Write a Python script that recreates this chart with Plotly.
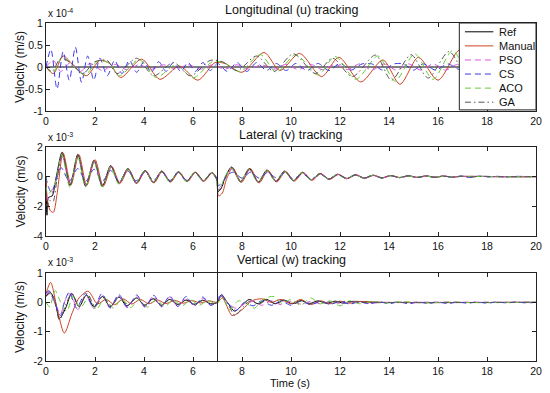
import plotly.graph_objects as go

# ---------------- data ----------------
x_ticks = [0, 2, 4, 6, 8, 10, 12, 14, 16, 18, 20]
x_ticktext = ["0", "2", "4", "6", "8", "10", "12", "14", "16", "18", "20"]
u_ticks = [-1, -0.5, 0, 0.5, 1]
u_ticktext = ["-1", "-0.5", "0", "0.5", "1"]
v_ticks = [-4, -2, 0, 2]
v_ticktext = ["-4", "-2", "0", "2"]
w_ticks = [-2, -1, 0, 1]
w_ticktext = ["-2", "-1", "0", "1"]

series_names = ["Ref", "Manual", "PSO", "CS", "ACO", "GA"]

# Longitudinal (u), units of 1e-4 m/s: (time, value)
u_ref = [(0, 0), (20, 0)]
u_manual = [(0, 0), (0.3, -0.15), (0.7, 0.25), (1.1, 0.05), (1.65, -0.2), (2.2, 0.15), (2.6, 0.08),
            (3.05, -0.24), (3.9, 0.18), (4.65, -0.28), (5.45, 0.02), (6.2, -0.3), (6.9, 0.1), (7.3, 0.08),
            (8.0, -0.12), (8.9, 0.33), (9.55, -0.08), (10.35, 0.31), (11.25, -0.22), (11.95, 0.22),
            (12.85, -0.34), (13.75, 0.16), (14.45, -0.39), (15.2, 0.22), (16.0, -0.3), (16.9, 0.39),
            (17.7, -0.3), (18.5, 0.35), (19.3, -0.3), (20, 0.3)]
u_pso = [(0, 0), (0.3, 0.15), (0.6, -0.1), (1.0, 0.1), (1.4, -0.1), (1.8, 0.08), (2.3, -0.08), (2.8, 0.06),
         (3.3, -0.06), (3.8, 0.05), (4.3, -0.05), (4.8, 0.05), (5.3, -0.05), (5.8, 0.05), (6.3, -0.05),
         (6.8, 0.05), (7.3, -0.05), (7.8, 0.05), (8.3, -0.05), (8.8, 0.05), (9.3, -0.05), (9.8, 0.06),
         (10.3, -0.06), (10.8, 0.06), (11.3, -0.06), (11.8, 0.06), (12.3, -0.06), (12.8, 0.07), (13.3, -0.07),
         (13.8, 0.07), (14.3, -0.07), (14.8, 0.07), (15.3, -0.07), (15.8, 0.07), (16.3, -0.07), (16.8, 0.06),
         (17.5, -0.06), (18.5, 0.05), (20, 0)]
u_cs = [(0, 0), (0.2, 0.4), (0.45, -0.5), (0.7, 0.35), (0.95, -0.3), (1.2, 0.45), (1.45, -0.35),
        (1.7, 0.25), (1.95, -0.3), (2.2, 0.2), (2.5, -0.2), (2.8, 0.15), (3.1, -0.15), (3.4, 0.15),
        (3.7, -0.12), (4.0, 0.12), (4.3, -0.12), (4.6, 0.12), (4.9, -0.1), (5.2, 0.1), (5.5, -0.1),
        (5.8, 0.1), (6.1, -0.1), (6.4, 0.1), (6.7, -0.08), (7.0, 0.08), (7.4, -0.1), (7.8, 0.1),
        (8.2, -0.1), (8.6, 0.1), (9.0, -0.08), (9.4, 0.08), (9.8, -0.08), (10.2, 0.08), (10.65, -0.08),
        (11.1, 0.08), (11.55, -0.08), (12.0, 0.08), (12.45, -0.07), (12.9, 0.07), (13.3, 0.07),
        (13.75, -0.07), (14.2, 0.07), (14.6, 0.07), (15.0, -0.07), (15.4, 0.07), (15.9, -0.07),
        (16.4, 0.07), (16.9, -0.06), (17.4, 0.06), (17.9, -0.06), (18.4, 0.06), (18.9, -0.06), (20, 0)]
u_aco = [(0, 0), (0.3, -0.12), (0.65, 0.22), (1.05, 0.05), (1.6, -0.18), (2.1, 0.13), (2.55, 0.1),
         (3.0, -0.2), (3.8, 0.17), (4.5, -0.24), (5.3, 0.05), (6.0, -0.25), (6.8, 0.12), (7.25, 0.1),
         (7.9, -0.1), (8.75, 0.28), (9.4, -0.12), (10.2, 0.28), (11.1, -0.18), (11.8, 0.24), (12.65, -0.28),
         (13.55, 0.25), (14.25, -0.32), (15.05, 0.3), (15.8, -0.28), (16.6, 0.37), (17.4, -0.3),
         (18.2, 0.33), (19.1, -0.3), (20, 0.3)]
u_ga = [(0, 0), (0.25, -0.1), (0.6, 0.2), (1.0, 0.1), (1.5, -0.15), (2.0, 0.12), (2.5, 0.15), (2.9, -0.15),
        (3.7, 0.2), (4.4, -0.2), (5.2, 0.1), (5.9, -0.2), (6.7, 0.15), (7.2, 0.12), (7.8, -0.08), (8.6, 0.25),
        (9.3, -0.1), (10.1, 0.3), (11.0, -0.15), (11.7, 0.2), (12.5, -0.22), (13.45, 0.27), (14.1, -0.3),
        (14.9, 0.28), (15.6, -0.25), (16.45, 0.35), (17.3, -0.3), (18.1, 0.3), (19.0, -0.3), (20, 0.3)]

# Lateral (v), units of 1e-3 m/s
v_ref = [(0, 0), (0.04, -2.6), (0.1, -1.4), (0.25, -1.3), (0.42, 0.0), (0.66, 1.65), (0.98, -0.6),
         (1.3, 1.5), (1.62, -0.65), (1.96, 1.1), (2.3, -0.65), (2.64, 0.75), (2.98, -0.45), (3.34, 0.55),
         (3.68, -0.45), (4.04, 0.42), (4.38, -0.4), (4.72, 0.38), (5.06, -0.35), (5.4, 0.33), (5.74, -0.32),
         (6.08, 0.3), (6.42, -0.3), (6.76, 0.28), (6.97, -0.2), (7.02, -1.0), (7.15, -0.8), (7.3, -0.1),
         (7.58, 0.65), (7.94, -0.35), (8.3, 0.55), (8.66, -0.38), (9.02, 0.45), (9.38, -0.33), (9.74, 0.38),
         (10.1, -0.28), (10.46, 0.3), (10.82, -0.22), (11.18, 0.22), (11.54, -0.18), (11.9, 0.17),
         (12.26, -0.14), (12.62, 0.13), (12.98, -0.11), (13.34, 0.1), (13.7, -0.09), (14.06, 0.08),
         (14.42, -0.07), (14.78, 0.06), (15.14, -0.05), (15.5, 0.05), (15.86, -0.04), (16.22, 0.04),
         (16.58, -0.03), (16.94, 0.03), (17.3, -0.02), (17.66, 0.02), (18.5, 0), (20, 0)]
v_manual = [(0, 0), (0.06, -1.6), (0.18, -2.3), (0.3, -2.4), (0.45, -1.2), (0.7, 1.6), (1.02, -0.55),
            (1.34, 1.5), (1.66, -0.6), (2.0, 1.15), (2.34, -0.65), (2.68, 0.7), (3.02, -0.45), (3.37, 0.5),
            (3.71, -0.45), (4.07, 0.4), (4.41, -0.42), (4.75, 0.36), (5.09, -0.36), (5.43, 0.32),
            (5.77, -0.33), (6.11, 0.3), (6.45, -0.3), (6.79, 0.27), (6.98, -0.2), (7.04, -1.3), (7.2, -1.1),
            (7.36, -0.2), (7.62, 0.6), (7.98, -0.38), (8.34, 0.55), (8.7, -0.42), (9.06, 0.42), (9.42, -0.35),
            (9.78, 0.35), (10.14, -0.3), (10.5, 0.28), (10.86, -0.24), (11.22, 0.2), (11.58, -0.18),
            (11.94, 0.15), (12.3, -0.13), (12.66, 0.12), (13.02, -0.1), (13.38, 0.09), (13.74, -0.08),
            (14.1, 0.07), (14.46, -0.06), (14.82, 0.05), (15.18, -0.05), (15.54, 0.04), (15.9, -0.03),
            (16.26, 0.03), (16.62, -0.02), (17, 0.02), (18.5, 0), (20, 0)]
v_pso = [(0, 0), (0.06, -1.5), (0.2, -1.3), (0.42, -0.2), (0.66, 1.4), (0.98, -0.5), (1.3, 1.3),
         (1.62, -0.55), (1.96, 1.0), (2.3, -0.55), (2.64, 0.65), (2.98, -0.4), (3.34, 0.5), (3.68, -0.4),
         (4.04, 0.38), (4.38, -0.36), (4.72, 0.34), (5.06, -0.32), (5.4, 0.3), (5.74, -0.3), (6.08, 0.28),
         (6.42, -0.28), (6.76, 0.26), (6.97, -0.2), (7.02, -0.8), (7.16, -0.6), (7.3, -0.1), (7.58, 0.5),
         (7.94, -0.3), (8.3, 0.45), (8.66, -0.3), (9.02, 0.38), (9.38, -0.28), (9.74, 0.32), (10.1, -0.24),
         (10.46, 0.26), (10.82, -0.2), (11.18, 0.2), (11.54, -0.16), (11.9, 0.15), (12.26, -0.12),
         (12.62, 0.11), (12.98, -0.1), (13.34, 0.09), (13.7, -0.08), (14.06, 0.07), (14.42, -0.06),
         (14.78, 0.05), (15.14, -0.05), (15.5, 0.04), (15.86, -0.03), (16.22, 0.03), (16.58, -0.02),
         (17, 0.02), (18.5, 0), (20, 0)]
v_cs = [(0, 0), (0.08, -0.6), (0.22, -1.05), (0.4, -0.3), (0.62, 0.6), (0.95, -0.3), (1.3, 0.55),
        (1.62, -0.3), (1.96, 0.5), (2.3, -0.3), (2.64, 0.42), (2.98, -0.3), (3.34, 0.38), (3.68, -0.28),
        (4.04, 0.32), (4.38, -0.26), (4.72, 0.3), (5.06, -0.25), (5.4, 0.28), (5.74, -0.24), (6.08, 0.26),
        (6.42, -0.22), (6.76, 0.24), (6.98, -0.1), (7.03, -0.6), (7.2, -0.4), (7.4, 0.1), (7.65, 0.3),
        (8.0, -0.1), (8.35, 0.3), (8.7, -0.1), (9.05, 0.28), (9.4, -0.08), (9.75, 0.25), (10.1, -0.15),
        (10.46, 0.2), (10.82, -0.15), (11.18, 0.15), (11.54, -0.13), (11.9, 0.12), (12.26, -0.1),
        (12.62, 0.1), (12.98, -0.09), (13.34, 0.08), (13.7, -0.08), (14.06, 0.07), (14.42, -0.06),
        (14.78, 0.06), (15.14, -0.06), (15.5, 0.05), (15.86, -0.05), (16.22, 0.05), (16.58, -0.04),
        (16.94, 0.04), (17.3, -0.04), (17.66, 0.03), (18.02, -0.03), (18.38, 0.03), (18.74, -0.02),
        (19.1, 0.02), (20, 0)]
v_aco = [(0, 0), (0.05, -1.2), (0.2, -1.0), (0.4, -0.3), (0.65, 1.5), (0.97, -0.7), (1.29, 1.4),
         (1.61, -0.7), (1.95, 1.0), (2.29, -0.7), (2.63, 0.65), (2.97, -0.5), (3.33, 0.5), (3.67, -0.45),
         (4.03, 0.4), (4.37, -0.4), (4.71, 0.36), (5.05, -0.35), (5.39, 0.32), (5.73, -0.32), (6.07, 0.3),
         (6.41, -0.3), (6.75, 0.28), (6.96, -0.3), (7.01, -0.7), (7.15, -0.6), (7.3, 0.0), (7.57, 0.6),
         (7.93, -0.3), (8.29, 0.5), (8.65, -0.34), (9.01, 0.4), (9.37, -0.3), (9.73, 0.33), (10.09, -0.25),
         (10.45, 0.27), (10.81, -0.2), (11.17, 0.2), (11.53, -0.16), (11.89, 0.15), (12.25, -0.12),
         (12.61, 0.11), (12.97, -0.1), (13.33, 0.09), (13.69, -0.08), (14.05, 0.07), (14.41, -0.06),
         (14.77, 0.05), (15.13, -0.05), (15.49, 0.04), (15.85, -0.03), (16.21, 0.03), (16.57, -0.02),
         (17, 0.02), (18.5, 0), (20, 0)]
v_ga = [(0, 0), (0.05, -2.0), (0.15, -1.6), (0.28, -1.7), (0.44, -0.3), (0.67, 1.55), (0.99, -0.55),
        (1.31, 1.45), (1.63, -0.6), (1.97, 1.05), (2.31, -0.6), (2.65, 0.7), (2.99, -0.42), (3.35, 0.52),
        (3.69, -0.42), (4.05, 0.4), (4.39, -0.38), (4.73, 0.36), (5.07, -0.33), (5.41, 0.31), (5.75, -0.3),
        (6.09, 0.28), (6.43, -0.28), (6.77, 0.26), (6.97, -0.2), (7.03, -0.9), (7.18, -0.7), (7.32, -0.1),
        (7.59, 0.62), (7.95, -0.33), (8.31, 0.52), (8.67, -0.36), (9.03, 0.42), (9.39, -0.3), (9.75, 0.35),
        (10.11, -0.26), (10.47, 0.28), (10.83, -0.2), (11.19, 0.2), (11.55, -0.16), (11.91, 0.15),
        (12.27, -0.12), (12.63, 0.12), (12.99, -0.1), (13.35, 0.09), (13.71, -0.08), (14.07, 0.07),
        (14.43, -0.06), (14.79, 0.06), (15.15, -0.05), (15.51, 0.04), (15.87, -0.04), (16.23, 0.03),
        (16.59, -0.03), (16.95, 0.02), (17.31, -0.02), (17.67, 0.02), (18.5, 0), (20, 0)]

# Vertical (w), units of 1e-3 m/s
w_ref = [(0, 0.2), (0.15, 0.35), (0.35, 0.1), (0.55, -0.55), (0.8, -0.2), (1.05, 0.3), (1.35, -0.15),
         (1.65, 0.25), (1.95, -0.15), (2.3, 0.2), (2.62, -0.15), (2.97, 0.18), (3.3, -0.12), (3.7, 0.15),
         (4.02, -0.1), (4.38, 0.12), (4.7, -0.1), (5.05, 0.1), (5.38, -0.08), (5.72, 0.08), (6.05, -0.07),
         (6.4, 0.07), (6.72, -0.05), (7.0, 0.0), (7.15, 0.25), (7.4, 0.0), (7.7, -0.3), (8.0, -0.1),
         (8.3, 0.1), (8.65, -0.05), (9.0, 0.1), (9.35, -0.05), (9.7, 0.08), (10.05, -0.05), (10.4, 0.06),
         (10.75, -0.04), (11.1, 0.05), (11.45, -0.03), (11.8, 0.04), (12.15, -0.03), (12.5, 0.03),
         (13.5, 0), (20, 0)]
w_manual = [(0, 0.3), (0.19, 0.68), (0.45, -0.2), (0.75, -1.05), (1.05, -0.4), (1.35, 0.15), (1.72, 0.38),
            (2.1, -0.05), (2.45, 0.1), (2.8, -0.08), (3.15, 0.12), (3.5, -0.06), (3.85, 0.1), (4.2, -0.05),
            (4.55, 0.08), (4.9, -0.04), (5.25, 0.07), (5.6, -0.03), (5.95, 0.06), (6.3, -0.02), (6.65, 0.05),
            (7.0, 0.0), (7.2, 0.15), (7.6, -0.45), (8.0, -0.25), (8.4, 0.05), (8.8, 0.12), (9.2, 0.0),
            (9.6, 0.1), (10.0, -0.05), (10.4, 0.1), (10.8, -0.08), (11.2, 0.05), (11.6, -0.05), (12.0, 0.04),
            (12.4, -0.03), (12.8, 0.03), (13.5, 0), (20, 0)]
w_pso = [(0, 0.25), (0.1, 0.35), (0.3, 0.15), (0.58, -0.4), (0.8, 0.1), (1.0, 0.3), (1.3, -0.25),
         (1.62, 0.25), (1.95, -0.2), (2.3, 0.25), (2.62, -0.2), (2.97, 0.22), (3.3, -0.18), (3.7, 0.2),
         (4.02, -0.16), (4.38, 0.2), (4.7, -0.15), (5.05, 0.18), (5.38, -0.14), (5.72, 0.16), (6.05, -0.12),
         (6.4, 0.14), (6.72, -0.1), (7.0, 0.05), (7.15, 0.2), (7.45, -0.05), (7.75, -0.2), (8.1, -0.05),
         (8.45, 0.05), (8.8, -0.1), (9.2, 0.05), (9.6, -0.08), (10.0, 0.04), (10.4, -0.06), (10.8, 0.03),
         (11.2, -0.05), (11.6, 0.03), (12.0, -0.04), (12.5, 0.02), (13, -0.03), (14, 0), (20, 0)]
w_cs = [(0, 0.3), (0.12, 0.4), (0.3, 0.1), (0.6, -0.45), (0.75, 0.0), (0.95, 0.35), (1.25, -0.2),
        (1.6, 0.3), (1.95, -0.2), (2.28, 0.3), (2.62, -0.18), (2.97, 0.27), (3.33, -0.17), (3.7, 0.25),
        (4.05, -0.16), (4.4, 0.24), (4.72, -0.15), (5.05, 0.22), (5.38, -0.14), (5.72, 0.2), (6.05, -0.13),
        (6.4, 0.18), (6.72, -0.1), (7.0, 0.05), (7.13, 0.3), (7.4, 0.0), (7.75, -0.28), (8.1, 0.0),
        (8.45, -0.12), (8.8, 0.05), (9.2, -0.1), (9.6, 0.05), (10.0, -0.1), (10.4, 0.04), (10.8, -0.08),
        (11.2, 0.03), (11.6, -0.07), (12.0, 0.03), (12.4, -0.06), (12.8, 0.02), (13.2, -0.05), (13.6, 0.02),
        (14.0, -0.05), (14.4, 0.02), (14.8, -0.05), (15.2, 0.01), (15.6, -0.04), (16.0, 0.01), (16.4, -0.04),
        (16.8, 0.01), (17.2, -0.03), (17.6, 0.01), (18.0, -0.03), (18.4, 0.01), (18.8, -0.02), (19.2, 0.01),
        (19.6, -0.02), (20, 0)]
w_aco = [(0, 0.0), (0.15, -0.15), (0.37, 0.4), (0.6, 0.0), (0.85, -0.3), (1.1, 0.2), (1.4, -0.2),
         (1.75, 0.2), (2.05, -0.25), (2.4, 0.15), (2.75, -0.2), (3.1, 0.12), (3.45, -0.18), (3.8, 0.1),
         (4.15, -0.16), (4.5, 0.1), (4.85, -0.14), (5.2, 0.08), (5.55, -0.12), (5.9, 0.08), (6.25, -0.1),
         (6.6, 0.06), (6.95, -0.05), (7.2, 0.15), (7.5, -0.25), (7.85, 0.05), (8.2, -0.05), (8.5, -0.2),
         (8.85, 0.1), (9.3, 0.2), (9.65, -0.05), (10.0, 0.1), (10.4, -0.1), (10.8, 0.15), (11.2, -0.05),
         (11.6, 0.05), (12.0, -0.12), (12.4, 0.05), (12.8, -0.05), (13.3, 0.03), (13.8, -0.03),
         (14.5, 0.02), (15.5, -0.02), (16.5, 0.01), (17.5, -0.01), (20, 0)]
w_ga = [(0, 0.2), (0.15, 0.3), (0.35, 0.0), (0.55, -0.6), (0.8, -0.1), (1.05, 0.3), (1.35, -0.1),
        (1.68, 0.3), (2.0, -0.15), (2.32, 0.2), (2.65, -0.12), (3.0, 0.18), (3.33, -0.1), (3.7, 0.15),
        (4.05, -0.1), (4.4, 0.12), (4.72, -0.08), (5.08, 0.1), (5.4, -0.07), (5.75, 0.08), (6.08, -0.06),
        (6.42, 0.07), (6.75, -0.05), (7.0, 0.0), (7.17, 0.2), (7.45, -0.1), (7.72, -0.45), (8.05, -0.15),
        (8.35, 0.05), (8.7, -0.05), (9.05, 0.08), (9.4, -0.05), (9.75, 0.06), (10.1, -0.04), (10.45, 0.05),
        (10.8, -0.04), (11.15, 0.04), (11.5, -0.03), (12, 0.03), (13, 0), (20, 0)]

switch_time = 7

# ---------------- styles ----------------
styles = {
    "Ref": dict(color="#000000", dash="solid"),
    "Manual": dict(color="#cc4422", dash="solid"),
    "PSO": dict(color="#dd55dd", dash="6px,4px"),
    "CS": dict(color="#3a3ae6", dash="6px,4px"),
    "ACO": dict(color="#66cc33", dash="6px,4px"),
    "GA": dict(color="#555555", dash="6px,3px,1.5px,3px"),
}

panels = [
    ("x", "y", [u_ref, u_manual, u_pso, u_cs, u_aco, u_ga]),
    ("x2", "y2", [v_ref, v_manual, v_pso, v_cs, v_aco, v_ga]),
    ("x3", "y3", [w_ref, w_manual, w_pso, w_cs, w_aco, w_ga]),
]

fig = go.Figure()
for xa, ya, series in panels:
    for name, pairs in zip(series_names, series):
        st = styles[name]
        fig.add_trace(go.Scatter(
            x=[p[0] for p in pairs], y=[p[1] for p in pairs], mode="lines", name=name,
            line=dict(color=st["color"], width=1, dash=st["dash"], shape="spline", smoothing=0.8),
            xaxis=xa, yaxis=ya, showlegend=False, hoverinfo="skip"))

FONT = "Liberation Sans, Arial, Helvetica, sans-serif"
W, H = 550, 393
def py(px):
    return 1 - px / H

domains = {"y": (py(111), py(23)), "y2": (py(236), py(147)), "y3": (py(361), py(273))}
ax_common = dict(showline=True, linecolor="#222222", linewidth=1, mirror="ticks", ticks="inside",
                 ticklen=4, tickcolor="#222222", showgrid=False, zeroline=False,
                 tickfont=dict(size=10.5, color="#111111", family=FONT))

layout = dict(
    width=W, height=H, margin=dict(l=46, r=14, t=0, b=0, autoexpand=False),
    paper_bgcolor="white", plot_bgcolor="white", showlegend=False,
    font=dict(family=FONT, color="#111111"), hovermode=False,
)
for i, (ya, rng, tv, tt) in enumerate([("y", [-1, 1], u_ticks, u_ticktext),
                                         ("y2", [-4, 2], v_ticks, v_ticktext),
                                         ("y3", [-2, 1], w_ticks, w_ticktext)]):
    xa_key = "xaxis" if i == 0 else f"xaxis{i+1}"
    ya_key = "yaxis" if i == 0 else f"yaxis{i+1}"
    layout[xa_key] = dict(domain=[0, 1], anchor=ya, range=[0, 20], tickvals=x_ticks,
                          ticktext=x_ticktext, **ax_common)
    layout[ya_key] = dict(domain=list(domains[ya]), anchor="x" if i == 0 else f"x{i+1}", range=rng,
                          tickvals=tv, ticktext=tt, **ax_common)
fig.update_layout(**layout)

shapes = []
# vertical switching line spanning all panels
shapes.append(dict(type="line", xref="x", yref="paper", x0=switch_time, x1=switch_time,
                   y0=domains["y3"][0], y1=domains["y"][1], line=dict(color="#222222", width=1),
                   layer="above"))
# legend box in top panel
shapes.append(dict(type="rect", xref="x", yref="y", x0=16.87, x1=20, y0=-0.975, y1=1,
                   fillcolor="white", line=dict(color="#222222", width=1), layer="above"))
annotations = []
row_y = [0.80, 0.48, 0.16, -0.16, -0.48, -0.80]
for name, yy in zip(series_names, row_y):
    st = styles[name]
    shapes.append(dict(type="line", xref="x", yref="y", x0=17.1, x1=18.26, y0=yy, y1=yy,
                       line=dict(color=st["color"], width=1, dash=st["dash"]), layer="above"))
    annotations.append(dict(text=name, xref="x", yref="y", x=18.4, y=yy, xanchor="left",
                            yanchor="middle", showarrow=False, font=dict(size=11, family=FONT)))

titles = [("Longitudinal (u) tracking", py(10)), ("Lateral (v) tracking", py(135)),
          ("Vertical (w) tracking", py(260))]
for txt, yy in titles:
    annotations.append(dict(text=txt, xref="paper", yref="paper", x=0.5, y=yy, xanchor="center",
                            yanchor="middle", showarrow=False, font=dict(size=12.5, family=FONT)))
exps = [("x 10<sup>-4</sup>", py(21)), ("x 10<sup>-3</sup>", py(145)), ("x 10<sup>-3</sup>", py(270))]
for txt, yy in exps:
    annotations.append(dict(text=txt, xref="paper", yref="paper", x=0.0, y=yy, xanchor="left",
                            yanchor="bottom", showarrow=False, font=dict(size=10, family=FONT)))
for ya in ["y", "y2", "y3"]:
    d0, d1 = domains[ya]
    annotations.append(dict(text="Velocity (m/s)", xref="paper", yref="paper", x=-0.053,
                            y=(d0 + d1) / 2, xanchor="center", yanchor="middle", textangle=-90,
                            showarrow=False, font=dict(size=12, family=FONT)))
annotations.append(dict(text="Time (s)", xref="paper", yref="paper", x=0.498, y=py(383),
                        xanchor="center", yanchor="middle", showarrow=False,
                        font=dict(size=11, family=FONT)))
fig.update_layout(shapes=shapes, annotations=annotations)

# the page's default 8px body margin would shift the 550x393 figure; remove it
fig.write_html("out.html", config={"displayModeBar": False, "staticPlot": True},
               post_script="document.body.style.margin='0';document.body.style.overflow='hidden';")
